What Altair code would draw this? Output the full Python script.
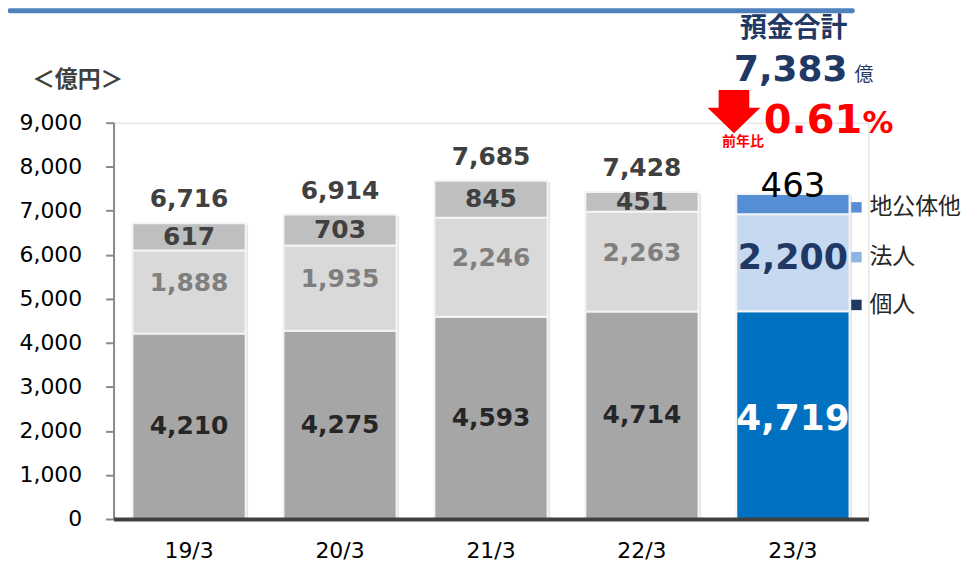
import altair as alt
import pandas as pd

# ---------------- data ----------------
categories = ["19/3", "20/3", "21/3", "22/3", "23/3"]
series = ["個人", "法人", "地公体他"]
kojin = [4210, 4275, 4593, 4714, 4719]
hojin = [1888, 1935, 2246, 2263, 2200]
chikotai = [617, 703, 845, 451, 463]
totals = [6716, 6914, 7685, 7428, 7383]
y_ticks = [0, 1000, 2000, 3000, 4000, 5000, 6000, 7000, 8000, 9000]
legend_order = ["地公体他", "法人", "個人"]
header_title = "預金合計"
header_total = "7,383"
header_unit = "億"
yoy_value = "0.61"
yoy_label = "前年比"
unit_label = "＜億円＞"

# ---------------- styles ----------------
grey_fill = {"個人": "#A6A6A6", "法人": "#D9D9D9", "地公体他": "#BFBFBF"}
blue_fill = {"個人": "#0070C0", "法人": "#C6D9F1", "地公体他": "#558ED5"}
legend_fill = {"地公体他": "#558ED5", "法人": "#8DB4E2", "個人": "#1F3864"}
NUM_FONT = "DejaVu Sans"
JP_FONT = "Noto Sans CJK JP"
NAVY = "#1F3864"
RED = "#FF0000"

W, H = 758, 398

rows = []
for i, cat in enumerate(categories):
    base = 0
    for s, vals in zip(series, [kojin, hojin, chikotai]):
        v = vals[i]
        hl = i == len(categories) - 1
        rows.append({
            "cat": cat, "seg": s, "value": v,
            "y0": base, "y1": base + v, "mid": base + v / 2,
            "label": f"{v:,}",
            "fill": (blue_fill if hl else grey_fill)[s],
            "hl": hl,
        })
        base += v
df = pd.DataFrame(rows)
tot_df = pd.DataFrame({"cat": categories, "total": totals,
                       "label": [f"{t:,}" for t in totals]})

xenc = alt.X("cat:N", sort=categories,
             scale=alt.Scale(paddingInner=0.25, paddingOuter=0.125),
             axis=alt.Axis(title=None, labelAngle=0, labelFontSize=22,
                           labelFont=NUM_FONT, labelColor="#000000",
                           labelBaseline="middle",
                           ticks=False, tickSize=0, labelPadding=32,
                           domainColor="#404040", domainWidth=4,
                           zindex=1))
yscale = alt.Scale(domain=[0, 9000], nice=False)

base = alt.Chart(df)

shadow = alt.Chart(tot_df).mark_bar(color="#000000", opacity=0.10,
                                     xOffset=2.5, yOffset=1.5).encode(
    x=xenc, y=alt.Y("total:Q", scale=yscale))

bars = base.mark_bar(stroke="#F4F4F4", strokeWidth=2).encode(
    x=xenc,
    y=alt.Y("y0:Q", scale=yscale,
            axis=alt.Axis(title=None, values=y_ticks, format=",.0f",
                          labelFontSize=22, labelFont=NUM_FONT,
                          labelColor="#000000", labelPadding=24,
                          tickSize=8, tickWidth=2, tickColor="#898989",
                          domainColor="#898989", domainWidth=2, grid=False)),
    y2="y1:Q",
    color=alt.Color("fill:N", scale=None),
)


def seg_text(flt, color, size, weight="bold", dy=0, field="mid"):
    return base.transform_filter(flt).mark_text(
        font=NUM_FONT, fontSize=size, fontWeight=weight, color=color,
        baseline="middle", align="center", dy=dy).encode(
        x=alt.X("cat:N", sort=categories), y=alt.Y(f"{field}:Q"),
        text="label:N")


lbl_bottom_grey = seg_text("datum.seg == '個人' && !datum.hl", "#262626", 25)
lbl_bottom_blue = seg_text("datum.seg == '個人' && datum.hl", "#FFFFFF", 36, dy=4)
lbl_mid_grey = seg_text("datum.seg == '法人' && !datum.hl", "#7F7F7F", 25, dy=-9)
lbl_mid_blue = seg_text("datum.seg == '法人' && datum.hl", NAVY, 35, dy=-5)
lbl_top_grey = seg_text("datum.seg == '地公体他' && !datum.hl", "#404040", 25)
lbl_top_blue = seg_text("datum.seg == '地公体他' && datum.hl", "#000000", 34,
                        weight="normal", dy=-7, field="y1")

lbl_tot = alt.Chart(tot_df).transform_filter(
    f"datum.cat != '{categories[-1]}'").mark_text(
    font=NUM_FONT, fontSize=25, fontWeight="bold", color="#404040",
    baseline="middle", dy=-24).encode(
    x=alt.X("cat:N", sort=categories), y=alt.Y("total:Q"), text="label:N")

one = pd.DataFrame({"k": [0]})


def note(text, x, y, size, color, weight="normal", font=NUM_FONT,
         align="center", baseline="middle"):
    return alt.Chart(one).mark_text(
        text=text, font=font, fontSize=size, fontWeight=weight, color=color,
        align=align, baseline=baseline).encode(x=alt.value(x), y=alt.value(y))


top_line = alt.Chart(one).mark_rule(color="#4F81BD", strokeWidth=5,
                                    strokeCap="round").encode(
    x=alt.value(-104), x2=alt.value(742), y=alt.value(-112.5))

arrow = alt.Chart(one).mark_point(
    shape="M-0.58,-0.79 L0.58,-0.79 L0.58,-0.11 L1,-0.11 L0,0.85 L-1,-0.11 L-0.58,-0.11 Z",
    filled=True, color=RED, opacity=1, size=2809, strokeWidth=0).encode(
    x=alt.value(623), y=alt.value(-12))

annotations = [
    top_line,
    note(unit_label, -36, -43, 23, "#404040", "bold", font=JP_FONT),
    note(header_title, 683, -94, 27, NAVY, "bold", font=JP_FONT),
    note(header_total, 680, -42, 36, NAVY, "bold", baseline="alphabetic"),
    note(header_unit, 744, -42, 19, NAVY, "normal", font=JP_FONT,
         align="left", baseline="alphabetic"),
    arrow,
    note(yoy_label, 632, 19, 14, RED, "bold", font=JP_FONT),
    note(yoy_value, 653, 10, 40, RED, "bold", align="left", baseline="alphabetic"),
    note("%", 752, 10, 31, RED, "bold", align="left", baseline="alphabetic"),
]

legend_layers = []
for j, name in enumerate(legend_order):
    yy = [85, 135, 183][j]
    legend_layers.append(alt.Chart(one).mark_point(
        shape="square", filled=True, opacity=1, size=110,
        color=legend_fill[name]).encode(x=alt.value(746), y=alt.value(yy)))
    legend_layers.append(note(name, 759, yy, 23, "#262626", font=JP_FONT,
                              align="left"))

chart = alt.layer(
    shadow, bars,
    lbl_bottom_grey, lbl_bottom_blue, lbl_mid_grey, lbl_mid_blue,
    lbl_top_grey, lbl_top_blue, lbl_tot,
    *annotations, *legend_layers,
).properties(
    width=W, height=H,
    autosize=alt.AutoSizeParams(type="none"),
    padding={"left": 106, "top": 114, "right": 94, "bottom": 44},
).configure_view(stroke=None).configure(background="#FFFFFF")

chart.save("out.html", embed_options={"renderer": "svg", "actions": False})
